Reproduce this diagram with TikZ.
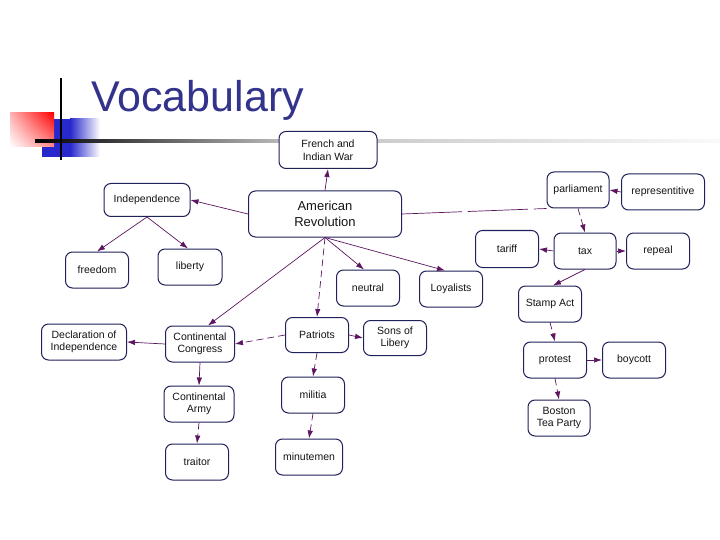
\documentclass[tikz,border=0pt]{standalone}
\usepackage{fontspec}
\setmainfont{Liberation Sans}
\usetikzlibrary{arrows.meta,shadings}
\definecolor{titleblue}{RGB}{51,51,140}
\definecolor{boxc}{RGB}{32,32,90}
\definecolor{arrowc}{RGB}{92,22,96}
\definecolor{bluedeco}{RGB}{40,40,205}
\definecolor{textc}{RGB}{20,20,20}
\tikzset{
  cbox/.style={draw=boxc, line width=1pt, rounded corners=7pt, fill=white,
    minimum width=63pt, minimum height=36pt, inner sep=1pt, align=center,
    text=textc, font=\fontsize{10.5}{12.5}\selectfont},
  arr/.style={draw=arrowc, line width=0.7pt, -{Latex[length=8pt,width=5.5pt]}},
  dsh/.style={dash pattern=on 7pt off 4pt},
  longdsh/.style={dash pattern=on 60pt off 6pt}
}
\begin{document}
\begin{tikzpicture}[x=1pt,y=-1pt]
\useasboundingbox (0,0) rectangle (720,540);
% decoration
\fill[bluedeco] (42,119) rectangle (70,157);
\shade[left color=bluedeco, right color=white] (70,119) rectangle (100,157);
\shade[upper left=red!30!white, upper right=red, lower left=white, lower right=red!45!white] (10,113) rectangle (54,147);
\shade[left color=black, right color=gray!55] (35,139.8) rectangle (280,142.2);
\shade[left color=gray!50, right color=gray!4] (280,139.8) rectangle (720,142.2);
\draw[black, line width=2pt] (61,78) -- (61,160);
\node[anchor=base west, inner sep=0pt, text=titleblue, font=\fontsize{43}{50}\selectfont] (title) at (91,112) {Vocabulary};
% nodes
\node[cbox, minimum width=98pt, minimum height=37pt] (fiw) at (328,150) {French and\\Indian War};
\node[cbox, minimum width=153pt, minimum height=46pt, font=\fontsize{13}{16}\selectfont] (ar) at (325,214) {American\\Revolution};
\node[cbox, minimum width=86pt, minimum height=33pt] (indep) at (147,200) {Independence};
\node[cbox] (freedom) at (97,270) {freedom};
\node[cbox, minimum width=64pt] (liberty) at (190,267) {liberty};
\node[cbox, minimum width=62pt] (parl) at (578,190) {parliament};
\node[cbox, minimum width=83pt] (rep) at (663,192) {representitive};
\node[cbox, minimum height=37pt] (tarif) at (507,249) {tariff};
\node[cbox, minimum width=62pt] (tax) at (585,251) {tax};
\node[cbox] (repeal) at (658,251) {repeal};
\node[cbox] (neutral) at (368,288) {neutral};
\node[cbox] (loyal) at (451,289) {Loyalists};
\node[cbox] (stamp) at (550,304) {Stamp Act};
\node[cbox, minimum width=85pt] (decl) at (84,342) {Declaration of\\Independence};
\node[cbox, minimum width=69pt] (cc) at (200,344) {Continental\\Congress};
\node[cbox, minimum height=35pt] (patriots) at (317,335) {Patriots};
\node[cbox, minimum height=35pt] (sons) at (395,338) {Sons of\\Libery};
\node[cbox, minimum width=70pt] (army) at (199,404) {Continental\\Army};
\node[cbox] (militia) at (313,395) {militia};
\node[cbox, minimum width=67pt] (minute) at (309,457) {minutemen};
\node[cbox] (traitor) at (197,462) {traitor};
\node[cbox] (protest) at (555,360) {protest};
\node[cbox] (boycott) at (634,360) {boycott};
\node[cbox, minimum width=62pt] (btp) at (559,418) {Boston\\Tea Party};
% connectors
\draw[arr] (ar.north) -- (fiw.south);
\draw[arr] (ar.west) -- (indep.east);
\draw[arr] (indep.south) -- (freedom.north);
\draw[arr] (indep.south) -- ([xshift=-2pt]liberty.north);
\draw[arr] (ar.south) -- ([xshift=8pt]cc.north);
\draw[arr, dsh] (ar.south) -- (patriots.north);
\draw[arr] (ar.south) -- ([xshift=-4pt]neutral.north);
\draw[arr] (ar.south) -- ([xshift=-6pt]loyal.north);
\draw[draw=arrowc, line width=0.7pt, longdsh] (ar.east) -- (parl.south west);
\draw[arr] (rep.west) -- (parl.east);
\draw[arr, dsh] (parl.south) -- (tax.north);
\draw[arr] (tax.west) -- (tarif.east);
\draw[arr] (tax.east) -- (repeal.west);
\draw[arr] (tax.south) -- ([xshift=3pt]stamp.north);
\draw[arr, dsh] (stamp.south) -- (protest.north);
\draw[arr] (protest.east) -- (boycott.west);
\draw[arr, dsh] (protest.south) -- (btp.north);
\draw[arr, dsh] (patriots.west) -- (cc.east);
\draw[arr] (patriots.east) -- (sons.west);
\draw[arr, dsh] (patriots.south) -- (militia.north);
\draw[arr, dsh] (militia.south) -- (minute.north);
\draw[arr] (cc.west) -- (decl.east);
\draw[arr] (cc.south) -- (army.north);
\draw[arr, dsh] (army.south) -- (traitor.north);
\end{tikzpicture}
\end{document}
